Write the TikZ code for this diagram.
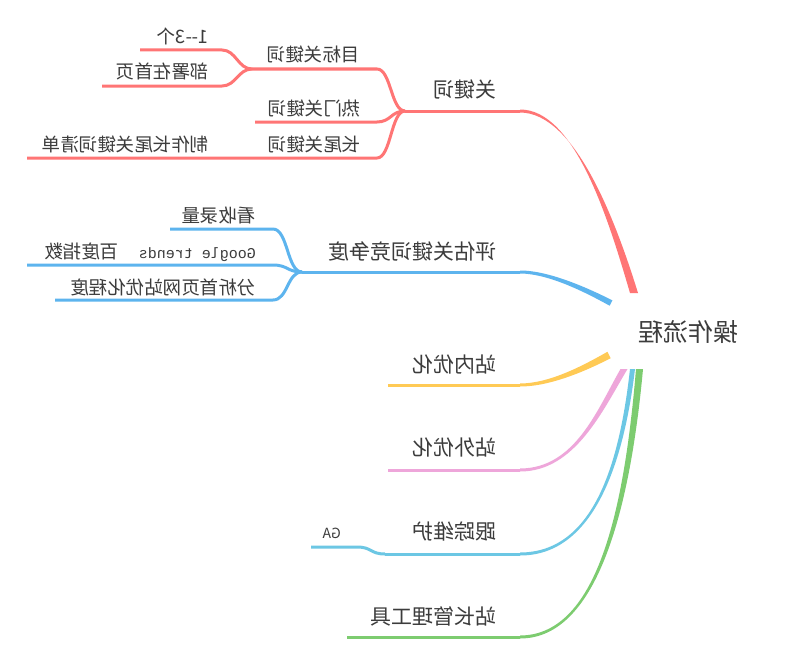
\documentclass[tikz,border=0pt]{standalone}
\usepackage{fontspec}
\usepackage{graphicx}
\usetikzlibrary{calc}
\setmainfont{Noto Sans CJK SC}
\newfontfamily\monof{Liberation Mono}
\definecolor{txt}{HTML}{3C3C3C}
\definecolor{cred}{HTML}{FF7575}
\definecolor{cblue}{HTML}{5DB4EE}
\definecolor{cyel}{HTML}{FFCA55}
\definecolor{cpink}{HTML}{EEA6DA}
\definecolor{ccyan}{HTML}{6CC7E4}
\definecolor{cgreen}{HTML}{7DCC70}
\tikzset{
  lbl/.style={anchor=east, inner sep=0pt, text=txt},
  mainlbl/.style={lbl, font=\fontsize{21}{25}\selectfont},
  sublbl/.style={lbl, font=\fontsize{18.5}{22}\selectfont},
  rootlbl/.style={inner sep=0pt, text=txt, font=\fontsize{25}{30}\selectfont},
  edgeline/.style={line width=3pt, line cap=butt, draw=#1},
}
% #1 colour, #2 start name, #3 c1, #4 c2, #5 end name, #6 half-width offset at start (upper side)
\newcommand\mmtaper[6]{%
  \fill[#1] ($(#2)+(#6)$) .. controls ($(#3)+0.85*(#6)$) and ($(#4)+(0,-1.6)$) .. ($(#5)+(0,-1.5)$)
     -- ($(#5)+(0,1.5)$) .. controls ($(#4)+(0,1.6)$) and ($(#3)-0.85*(#6)$) .. ($(#2)-(#6)$) -- cycle;}
\begin{document}
\begin{tikzpicture}[x=1pt,y=-1pt]
\useasboundingbox (0,0) rectangle (800,661);
\fill[white] (0,0) rectangle (800,661);

% root
\node[rootlbl] (root) at (688,332) {\reflectbox{操作流程}};

% ---------- coordinates ----------
\coordinate (rS) at (634,293);   \coordinate (rP) at (520,111);  \coordinate (rJ) at (405,111);
\coordinate (k1e) at (377,69);   \coordinate (k1J) at (252,69);
\coordinate (k2e) at (377,122);  \coordinate (k2s) at (255,122);
\coordinate (k3e) at (377,158);  \coordinate (k3J) at (255,158); \coordinate (k31s) at (27,158);
\coordinate (k11e) at (222,50);  \coordinate (k11s) at (140,50);
\coordinate (k12e) at (222,86);  \coordinate (k12s) at (102,86);

\coordinate (bS) at (611,303);   \coordinate (bP) at (520,272);  \coordinate (bJ) at (302,272);
\coordinate (e1e) at (273,229);  \coordinate (e1s) at (170,229);
\coordinate (e2e) at (273,265);  \coordinate (e2s) at (27,265);
\coordinate (e3e) at (273,300);  \coordinate (e3s) at (55,300);

\coordinate (yS) at (609,355);   \coordinate (yP) at (520,385);  \coordinate (yE) at (388,385);
\coordinate (pS) at (624,369);   \coordinate (pP) at (520,470);  \coordinate (pE) at (388,470);
\coordinate (cS) at (632.5,369); \coordinate (cP) at (520,554);  \coordinate (cJ) at (385,554);
\coordinate (gae) at (357,547);  \coordinate (gas) at (311,547);
\coordinate (gS) at (639.5,369); \coordinate (gP) at (520,637);  \coordinate (gE) at (347,637);

% ---------- tapered main branches ----------
\mmtaper{cred}{rS}{612,220}{575,111}{rP}{-4,0}
\mmtaper{cblue}{bS}{590,292}{550,272}{bP}{1.35,-2.7}
\mmtaper{cyel}{yS}{585,368}{550,385}{yP}{-1.6,-3.2}
\mmtaper{cpink}{pS}{600,410}{575,470}{pP}{-3.5,0}
\mmtaper{ccyan}{cS}{622,460}{595,554}{cP}{-2.5,0}
\mmtaper{cgreen}{gS}{628,500}{600,637}{gP}{-3.5,0}

% ---------- red: 关键词 ----------
\draw[edgeline=cred] (rP) -- (rJ);
\draw[edgeline=cred] (rJ) .. controls (391,111) and (391,69) .. (k1e) -- (k1J);
\draw[edgeline=cred] (rJ) .. controls (391,111) and (391,122) .. (k2e) -- (k2s);
\draw[edgeline=cred] (rJ) .. controls (391,111) and (391,158) .. (k3e) -- (k3J) -- (k31s);
\draw[edgeline=cred] (k1J) .. controls (238,69) and (236,50) .. (k11e) -- (k11s);
\draw[edgeline=cred] (k1J) .. controls (238,69) and (236,86) .. (k12e) -- (k12s);

% ---------- blue: 评估关键词竞争度 ----------
\draw[edgeline=cblue] (bP) -- (bJ);
\draw[edgeline=cblue] (bJ) .. controls (287,272) and (288,229) .. (e1e) -- (e1s);
\draw[edgeline=cblue] (bJ) .. controls (287,272) and (288,265) .. (e2e) -- (e2s);
\draw[edgeline=cblue] (bJ) .. controls (287,272) and (288,300) .. (e3e) -- (e3s);

% ---------- other main branches ----------
\draw[edgeline=cyel] (yP) -- (yE);
\draw[edgeline=cpink] (pP) -- (pE);
\draw[edgeline=ccyan] (cP) -- (cJ);
\draw[edgeline=ccyan] (cJ) .. controls (370,554) and (372,547) .. (gae) -- (gas);
\draw[edgeline=cgreen] (gP) -- (gE);

% ---------- labels ----------
\node[mainlbl] (l1) at (497,90) {\reflectbox{关键词}};
\node[sublbl] (l11) at (360,54.5) {\reflectbox{目标关键词}};
\node[sublbl] (l12) at (361,108.5) {\reflectbox{热门关键词}};
\node[sublbl] (l13) at (361,144.5) {\reflectbox{长尾关键词}};
\node[sublbl] (l111) at (209,36) {\reflectbox{1-{}-3个}};
\node[sublbl] (l112) at (209,71.5) {\reflectbox{部署在首页}};
\node[sublbl] (l131) at (209,144.5) {\reflectbox{制作长尾关键词清单}};

\node[mainlbl] (l2) at (497,251.5) {\reflectbox{评估关键词竞争度}};
\node[sublbl] (l21) at (256,215.5) {\reflectbox{看收录量}};
\node[sublbl] (l22) at (256,252.5) {\reflectbox{{\monof\fontsize{15}{18}\selectfont Google trends}\hspace{20pt}百度指数}};
\node[sublbl] (l23) at (256,287.5) {\reflectbox{分析首页网站优化程度}};

\node[mainlbl] (l3) at (497,365) {\reflectbox{站内优化}};
\node[mainlbl] (l4) at (497,448) {\reflectbox{站外优化}};
\node[mainlbl] (l5) at (497,531.5) {\reflectbox{跟踪维护}};
\node[lbl, font=\fontsize{14}{17}\selectfont] (l51) at (341,533) {\reflectbox{GA}};
\node[mainlbl] (l6) at (497,616.5) {\reflectbox{站长管理工具}};
\end{tikzpicture}
\end{document}
